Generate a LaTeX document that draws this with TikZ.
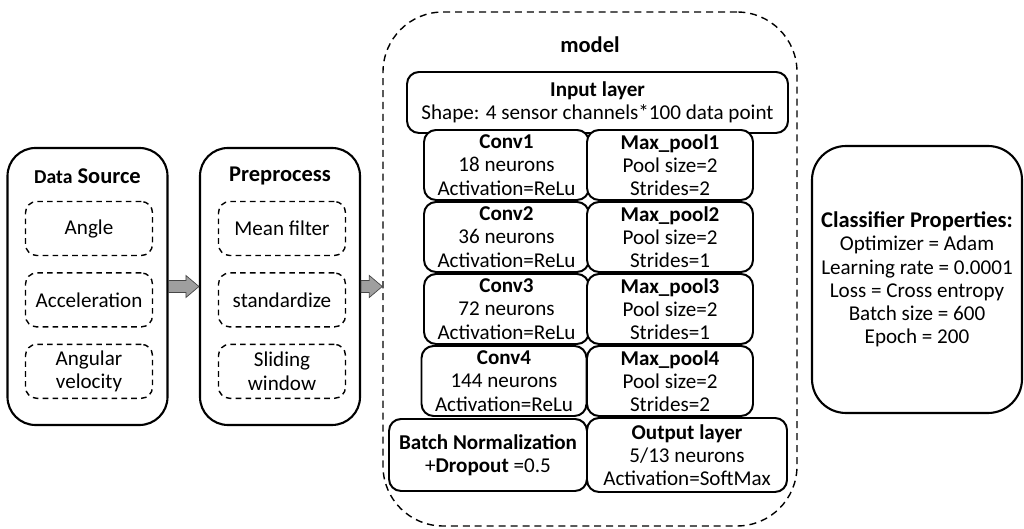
\documentclass[tikz,border=0pt]{standalone}
\usepackage{fontspec}
\setmainfont{Carlito}
\usepackage{tikz}
\usetikzlibrary{positioning, calc}

\begin{document}
\begin{tikzpicture}[
      font=\fontsize{15}{16.5}\selectfont,
      stage/.style={draw, line width=1.5pt, rounded corners=0.7cm,
                    minimum width=4cm, minimum height=6.925cm, inner sep=0pt},
      hdr/.style={font=\fontsize{16}{18}\selectfont\bfseries},
      item/.style={draw, dashed, dash pattern=on 4pt off 3pt, line width=1pt,
                   rounded corners=0.28cm, align=center, inner sep=0pt,
                   minimum width=3.175cm, minimum height=1.35cm},
      layer/.style={draw, fill=white, line width=1.4pt, rounded corners=0.3cm,
                    align=center, inner sep=0pt, minimum height=1.75cm},
      fatarrow/.style={fill=gray!75, draw=gray!55!black, line width=0.5pt},
      node distance=0.4cm]
    \useasboundingbox (0,0) rectangle (25.6,13.225);

    % data source
    \node[stage] (ds) at (2.1875,6.0625) {};
    \node[hdr] (dst) at (2.1875,8.825)
      {{\fontsize{14}{16}\selectfont Data} Source};
    \node[item] (d1) at (2.225,7.5125) {Angle};
    \node[item, below=of d1] (d2) {Acceleration};
    \node[item, below=of d2] (d3) {Angular\\velocity};

    % preprocessing
    \node[stage] (pp) at (7,6.0625) {};
    \node[hdr] (ppt) at (7,8.825) {Preprocess};
    \node[item] (p1) at (7.05,7.5125) {Mean filter};
    \node[item, below=of p1] (p2) {standardize};
    \node[item, below=of p2] (p3) {Sliding\\window};

    % model
    \node[draw, dashed, dash pattern=on 5pt off 3.5pt, line width=1pt,
          rounded corners=1.5cm, minimum width=10.35cm, minimum height=12.85cm,
          inner sep=0pt] (mdl) at (14.75,6.5) {};
    \node[hdr] (mdlt) at (14.75,12.1) {model};
    \node[layer, minimum width=9.525cm, minimum height=1.525cm] (in) at (14.9375,10.6625)
      {\textbf{Input layer}\\Shape: 4 sensor channels*100 data point};
    \node[layer, minimum width=4.125cm] (c1) at (12.6625,9.1)
      {\textbf{Conv1}\\18 neurons\\Activation=ReLu};
    \node[layer, minimum width=4.15cm] (m1) at (16.75,9.1)
      {\textbf{Max\_pool1}\\Pool size=2\\Strides=2};
    \node[layer, minimum width=4.125cm] (c2) at (12.6625,7.3)
      {\textbf{Conv2}\\36 neurons\\Activation=ReLu};
    \node[layer, minimum width=4.15cm] (m2) at (16.75,7.3)
      {\textbf{Max\_pool2}\\Pool size=2\\Strides=1};
    \node[layer, minimum width=4.125cm] (c3) at (12.6625,5.5)
      {\textbf{Conv3}\\72 neurons\\Activation=ReLu};
    \node[layer, minimum width=4.15cm] (m3) at (16.75,5.5)
      {\textbf{Max\_pool3}\\Pool size=2\\Strides=1};
    \node[layer, minimum width=4.125cm] (c4) at (12.6,3.7)
      {\textbf{Conv4}\\144 neurons\\Activation=ReLu};
    \node[layer, minimum width=4.15cm] (m4) at (16.75,3.7)
      {\textbf{Max\_pool4}\\Pool size=2\\Strides=2};
    \node[layer, minimum width=4.95cm, minimum height=1.8cm] (bn) at (12.2,1.85)
      {\textbf{Batch Normalization}\\+\textbf{Dropout} =0.5};
    \node[layer, minimum width=5cm, minimum height=1.85cm] (out) at (17.175,1.85)
      {\textbf{Output layer}\\5/13 neurons\\Activation=SoftMax};

    % classifier
    \node[draw, line width=1.5pt, rounded corners=0.85cm, align=center,
          minimum width=5.25cm, minimum height=6.675cm, inner sep=0pt] (clf)
      at (22.925,6.2375)
      {{\fontsize{16}{18}\selectfont\bfseries Classifier Properties:}\\
       Optimizer = Adam\\Learning rate = 0.0001\\Loss = Cross entropy\\
       Batch size = 600\\Epoch = 200};

    % block arrows
    \filldraw[fatarrow] ($(ds.east)+(0,0.15)$) -- ($(pp.west)+(-0.325,0.15)$)
      -- ($(pp.west)+(-0.325,0.275)$) -- (pp.west) -- ($(pp.west)+(-0.325,-0.275)$)
      -- ($(pp.west)+(-0.325,-0.15)$) -- ($(ds.east)+(0,-0.15)$) -- cycle;
    \filldraw[fatarrow] ($(pp.east)+(0,0.15)$) -- ($(mdl.west|-pp.east)+(-0.325,0.15)$)
      -- ($(mdl.west|-pp.east)+(-0.325,0.275)$) -- (mdl.west|-pp.east)
      -- ($(mdl.west|-pp.east)+(-0.325,-0.275)$) -- ($(mdl.west|-pp.east)+(-0.325,-0.15)$)
      -- ($(pp.east)+(0,-0.15)$) -- cycle;
  \end{tikzpicture}
\end{document}
